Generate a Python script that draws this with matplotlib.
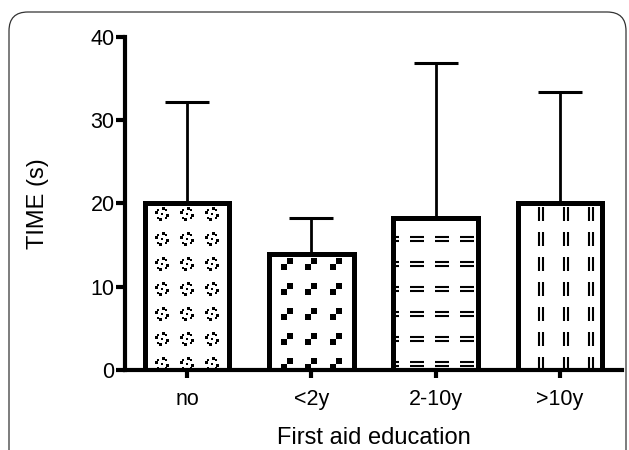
import numpy as np
import matplotlib
matplotlib.use("Agg")
import matplotlib.pyplot as plt
from matplotlib.path import Path
from matplotlib.patches import FancyBboxPatch

categories = ["no", "<2y", "2-10y", ">10y"]
means = [20.1, 13.9, 18.3, 20.1]
sd = [12.1, 4.4, 18.6, 13.3]
y_ticks = [0, 10, 20, 30, 40]

plt.rcParams['font.family'] = ['Liberation Sans', 'DejaVu Sans']

fig = plt.figure(figsize=(6.29, 4.5), dpi=100)
ax = fig.add_axes([0.1987, 0.1778, 0.7903, 0.74])

# rounded figure frame
frame = FancyBboxPatch((9/629, -0.1), 617/629, 1.1 - 12/450,
                       boxstyle="round,pad=0,rounding_size=0.03",
                       transform=fig.transFigure, fill=False,
                       edgecolor="#333333", linewidth=0.9, zorder=0,
                       mutation_aspect=629/450)
fig.patches.append(frame)

x = np.arange(len(categories))
width = 0.68
bars = ax.bar(x, means, width=width, color="white", edgecolor="none",
              linewidth=0, zorder=2)
ax.bar(x, means, width=width, fill=False, edgecolor="black",
       linewidth=3.6, zorder=3)
ax.errorbar(x, means, yerr=[np.zeros(len(sd)), sd], fmt="none",
            ecolor="black", elinewidth=2.0, capsize=15.8, capthick=2.2,
            zorder=1)

# pattern markers
def sq(cx, cy, s):
    return [(cx - s, cy - s), (cx + s, cy - s), (cx + s, cy + s), (cx - s, cy + s), (cx - s, cy - s)], \
           [Path.MOVETO, Path.LINETO, Path.LINETO, Path.LINETO, Path.CLOSEPOLY]

def multi_sq(points, s):
    verts, codes = [], []
    for (px, py) in points:
        v, c = sq(px, py, s)
        verts += v
        codes += c
    return Path(verts, codes)

m_star = multi_sq([(-1.1, -1.1), (1.1, -1.1), (-1.1, 1.1), (1.1, 1.1), (0, 0),
                   (-0.45, -1.5), (0.45, 1.5), (-1.5, 0.45), (1.5, -0.45)], 0.38)
m_diag = multi_sq([(-0.5, -0.5), (0.5, 0.5)], 0.5)
m_eq = Path([(-1, 0.3), (1, 0.3), (-1, -0.3), (1, -0.3)],
            [Path.MOVETO, Path.LINETO, Path.MOVETO, Path.LINETO])
m_vv = Path([(0.3, -1), (0.3, 1), (-0.3, -1), (-0.3, 1)],
            [Path.MOVETO, Path.LINETO, Path.MOVETO, Path.LINETO])

styles = [
    dict(marker=m_star, ms=10.0, mfc="black", mec="none", mew=0, xoff=0.0),
    dict(marker=m_diag, ms=8.5, mfc="black", mec="none", mew=0, xoff=0.0),
    dict(marker=m_eq, ms=9.5, mfc="none", mec="black", mew=1.5, xoff=0.05),
    dict(marker=m_vv, ms=9.5, mfc="none", mec="black", mew=1.5, xoff=0.05),
]
dx, dy = 0.2, 3.0
for b, st, xc, h in zip(bars, styles, x, means):
    cols = xc + st["xoff"] + dx * np.arange(-3, 4)
    rows = 0.7 + dy * np.arange(0, int(h // dy) + 2)
    gx, gy = np.meshgrid(cols, rows)
    ln, = ax.plot(gx.ravel(), gy.ravel(), linestyle="none", marker=st["marker"],
                  markersize=st["ms"], markerfacecolor=st["mfc"],
                  markeredgecolor=st["mec"], markeredgewidth=st["mew"], zorder=2.5)
    ln.set_clip_path(b)

ax.set_xlim(-0.5, 3.5)
ax.set_ylim(0, 40)
ax.set_yticks(y_ticks)
ax.set_xticks(x)
ax.set_xticklabels(categories)
for s in ["top", "right"]:
    ax.spines[s].set_visible(False)
ax.spines["left"].set_linewidth(3.0)
ax.spines["bottom"].set_linewidth(3.0)
ax.spines["left"].set_zorder(4)
ax.spines["bottom"].set_zorder(4)
ax.tick_params(axis="y", direction="out", length=6.5, width=3.0, pad=1, labelsize=15.5)
ax.tick_params(axis="x", direction="out", length=6.0, width=3.0, pad=8, labelsize=15.5)
ax.set_ylabel("TIME (s)", fontsize=17, labelpad=30)
ax.set_xlabel("First aid education", fontsize=17, labelpad=12)

fig.savefig("out.png", dpi=100)
